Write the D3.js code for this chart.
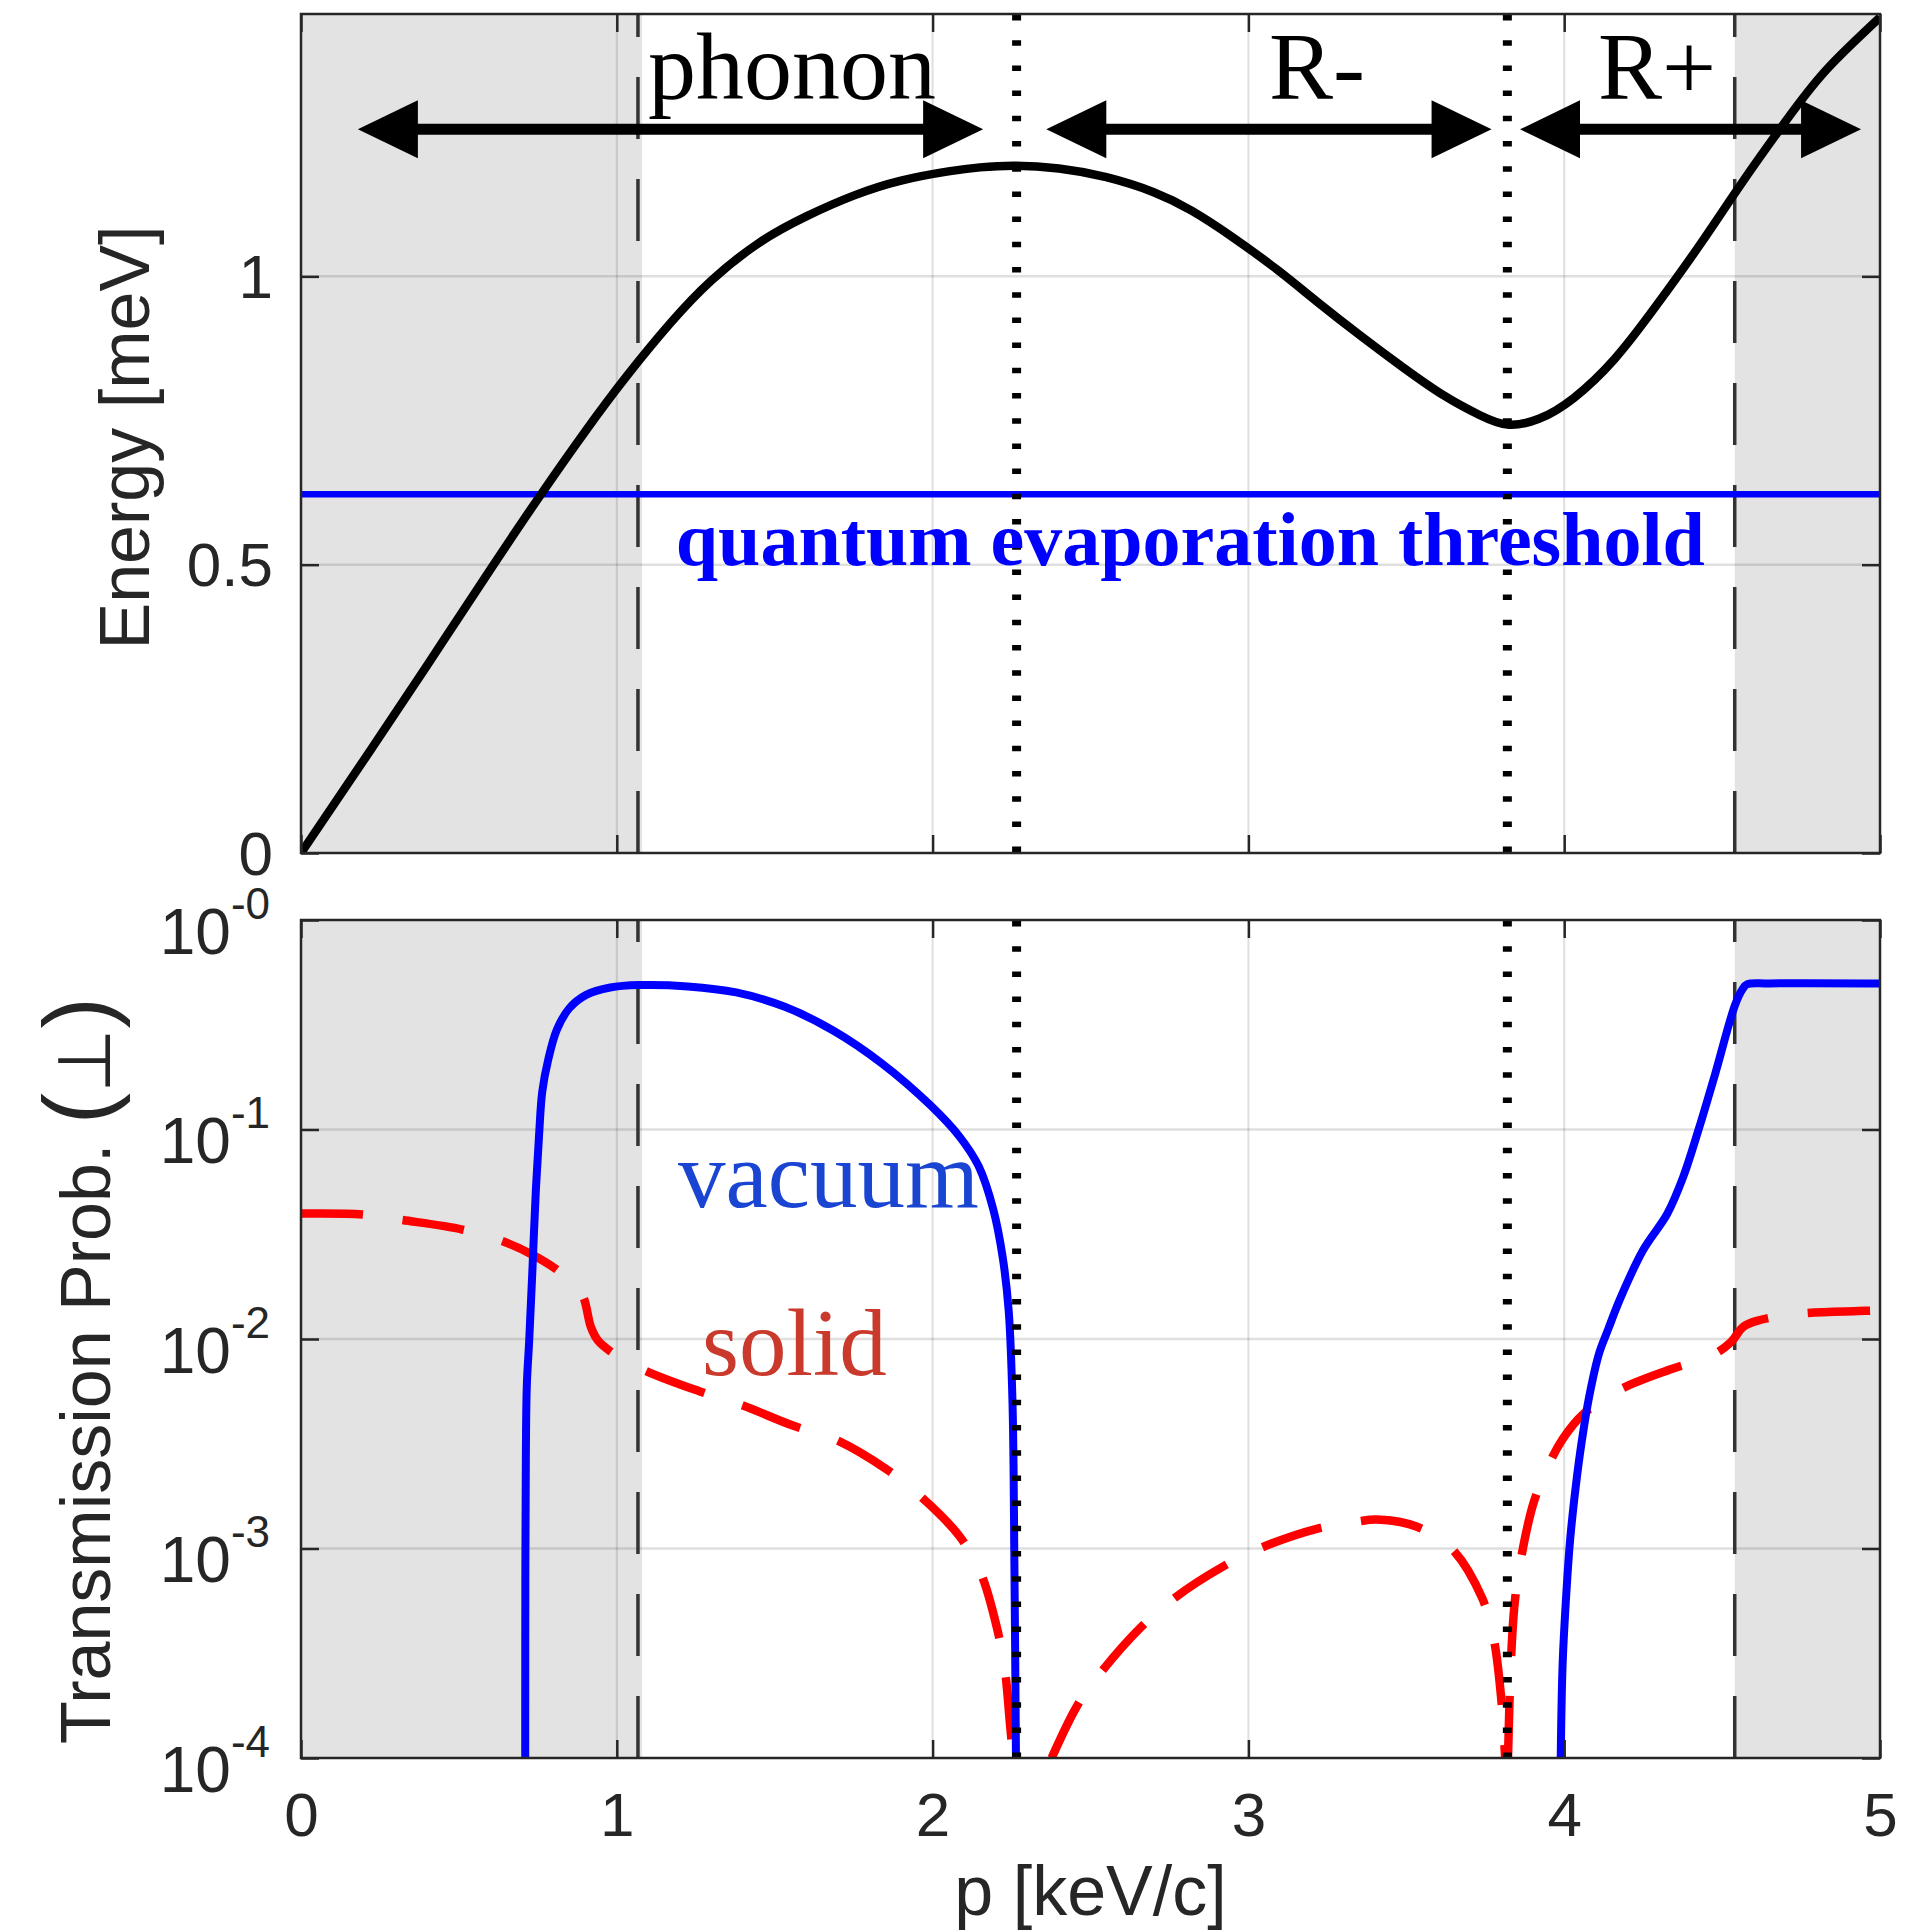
<!DOCTYPE html>
<html><head><meta charset="utf-8">
<script src="https://cdn.jsdelivr.net/npm/d3@7"></script>
<style>body{margin:0;background:#fff} svg{display:block}</style>
</head><body>
<svg id="chart" width="1926" height="1932"></svg>
<script>
// ---------------- data ----------------
const dispersionP = [0, 0.2, 0.4, 0.6, 0.76, 0.9, 1.03, 1.17, 1.3, 1.45, 1.6, 1.75, 1.9, 2.05, 2.15, 2.26, 2.4, 2.55, 2.7, 2.82, 2.95, 3.09, 3.22, 3.36, 3.49, 3.62, 3.73, 3.82, 3.92, 4.03, 4.16, 4.29, 4.43, 4.56, 4.7, 4.83, 5.0];
const dispersionE = [0, 0.162, 0.326, 0.492, 0.622, 0.731, 0.826, 0.919, 0.993, 1.058, 1.104, 1.140, 1.166, 1.182, 1.189, 1.192, 1.187, 1.172, 1.146, 1.114, 1.068, 1.012, 0.955, 0.895, 0.842, 0.793, 0.760, 0.743, 0.753, 0.789, 0.857, 0.948, 1.055, 1.160, 1.268, 1.358, 1.449];
const thresholdE = 0.622;

const vacuumLeftP = [0.7100, 0.7105, 0.712, 0.715, 0.723, 0.733, 0.744, 0.754, 0.764, 0.783, 0.810, 0.849, 0.903, 0.979, 1.071, 1.225, 1.378, 1.532, 1.685, 1.839, 1.992, 2.084, 2.146, 2.192, 2.222, 2.241, 2.253, 2.259, 2.264];
const vacuumLeftT = [1e-4, 8.5e-4, 0.00277, 0.00596, 0.0101, 0.0218, 0.0526, 0.0948, 0.152, 0.216, 0.299, 0.378, 0.439, 0.476, 0.489, 0.482, 0.451, 0.385, 0.297, 0.207, 0.131, 0.093, 0.0667, 0.0416, 0.0245, 0.0136, 0.0050, 8.5e-4, 1e-4];
const vacuumRightP = [3.989, 3.995, 4.007, 4.019, 4.037, 4.055, 4.079, 4.11, 4.14, 4.175, 4.25, 4.326, 4.376, 4.427, 4.478, 4.541, 4.565, 4.58, 4.65, 5.0];
const vacuumRightT = [1e-4, 2.8e-4, 6.2e-4, 0.00111, 0.0020, 0.0032, 0.0053, 0.0085, 0.0112, 0.0153, 0.0266, 0.0395, 0.0589, 0.1016, 0.184, 0.393, 0.468, 0.494, 0.498, 0.498];

const solidAP = [0, 0.196, 0.319, 0.511, 0.641, 0.734, 0.803, 0.87, 0.895, 0.918, 0.94, 0.979, 1.086, 1.263, 1.393, 1.562, 1.693, 1.854, 1.961, 2.084, 2.153, 2.207, 2.229, 2.245, 2.255];
const solidAT = [0.0397, 0.0393, 0.0370, 0.0333, 0.0292, 0.0252, 0.0218, 0.0178, 0.0157, 0.0114, 0.00984, 0.00875, 0.00711, 0.00562, 0.00485, 0.00384, 0.00331, 0.00239, 0.00178, 0.00115, 0.000759, 0.000398, 0.000263, 0.000146, 0.0001];
const solidBP = [2.377, 2.462, 2.54, 2.662, 2.765, 2.922, 3.038, 3.219, 3.346, 3.407, 3.534, 3.643, 3.74, 3.777, 3.801, 3.813];
const solidBT = [1e-4, 1.82e-4, 2.64e-4, 4.24e-4, 5.79e-4, 8.24e-4, 1.005e-3, 1.245e-3, 1.346e-3, 1.374e-3, 1.27e-3, 1.002e-3, 5.81e-4, 3.70e-4, 1.89e-4, 1e-4];
const solidCP = [3.822, 3.831, 3.843, 3.862, 3.904, 3.952, 3.995, 4.061, 4.174, 4.34, 4.466, 4.528, 4.566, 4.61, 4.743, 4.933, 5.0];
const solidCT = [1e-4, 2.82e-4, 5.46e-4, 8.75e-4, 1.67e-3, 2.53e-3, 3.33e-3, 4.39e-3, 5.71e-3, 7.19e-3, 8.32e-3, 9.66e-3, 0.0114, 0.0122, 0.0132, 0.0136, 0.0137];

const shadeStartP = [0, 4.54];
const shadeEndP = [1.08, 5];
const dashedP = [1.067, 4.54];
const dottedP = [2.266, 3.82];

const xTicks = [0, 1, 2, 3, 4, 5];
const energyTicks = [0, 0.5, 1];
const transTicks = [1, 0.1, 0.01, 0.001, 0.0001];
const transTickExp = ["-0", "-1", "-2", "-3", "-4"];

const arrowStartP = [0.18, 2.36, 3.86];
const arrowEndP = [2.16, 3.77, 4.94];
const arrowE = 1.255;
const regionLabels = ["phonon", "R-", "R+"];
const regionLabelP = [1.099, 3.065, 4.107];
const regionLabelE = 1.308;

const thresholdLabel = "quantum evaporation threshold";
const thresholdLabelP = 1.187, thresholdLabelE = 0.499;
const seriesLabels = ["vacuum", "solid"];
const seriesLabelP = [1.194, 1.27];
const seriesLabelT = [0.0427, 0.00673];

// ---------------- layout ----------------
const svg = d3.select("#chart");
const L = 301, R = 1880;
const top1 = 14, bot1 = 853, top2 = 920, bot2 = 1758;
const AX = "#262626";
const SANS = "'Liberation Sans', Arial, Helvetica, sans-serif";
const SERIF = "'Liberation Serif', 'Times New Roman', Times, serif";

const x = d3.scaleLinear().domain([0, 5]).range([L, R]);
const yE = d3.scaleLinear().domain([0, 1.455]).range([bot1, top1]);
const yT = d3.scaleLog().domain([1e-4, 1]).range([bot2, top2]);

const defs = svg.append("defs");
defs.append("clipPath").attr("id", "clip1").append("rect").attr("x", L).attr("y", top1).attr("width", R - L).attr("height", bot1 - top1);
defs.append("clipPath").attr("id", "clip2").append("rect").attr("x", L).attr("y", top2).attr("width", R - L).attr("height", bot2 - top2);

function panel(top, bot, clipId, yScale, yTickVals) {
  const g = svg.append("g");
  const c = g.append("g").attr("clip-path", `url(#${clipId})`);
  shadeStartP.forEach((s, i) => {
    c.append("rect").attr("x", x(s)).attr("y", top).attr("width", x(shadeEndP[i]) - x(s)).attr("height", bot - top).attr("fill", "#e3e3e3");
  });
  xTicks.slice(1, -1).forEach(t => {
    c.append("line").attr("x1", x(t)).attr("x2", x(t)).attr("y1", top).attr("y2", bot)
      .attr("stroke", "rgba(38,38,38,0.15)").attr("stroke-width", 2);
  });
  yTickVals.forEach(t => {
    const yy = yScale(t);
    if (Math.abs(yy - top) < 2 || Math.abs(yy - bot) < 2) return;
    c.append("line").attr("x1", L).attr("x2", R).attr("y1", yy).attr("y2", yy)
      .attr("stroke", "rgba(38,38,38,0.15)").attr("stroke-width", 2.5);
  });
  dashedP.forEach(p => {
    c.append("line").attr("x1", x(p)).attr("x2", x(p)).attr("y1", bot).attr("y2", top)
      .attr("stroke", "#333").attr("stroke-width", 3.5).attr("stroke-dasharray", "62 40");
  });
  return {g, c};
}

function drawDotted(c, top, bot) {
  dottedP.forEach(p => {
    c.append("line").attr("x1", x(p)).attr("x2", x(p)).attr("y1", top + 1).attr("y2", bot)
      .attr("stroke", "#000").attr("stroke-width", 9).attr("stroke-dasharray", "5.5 19.7");
  });
}

function box(g, top, bot) {
  g.append("rect").attr("x", L).attr("y", top).attr("width", R - L).attr("height", bot - top)
    .attr("fill", "none").attr("stroke", AX).attr("stroke-width", 2.5);
}

function styleAxis(sel) {
  sel.select(".domain").remove();
  sel.selectAll(".tick line").attr("stroke", AX).attr("stroke-width", 2.5);
  sel.selectAll("text").attr("fill", AX).style("font-family", SANS).style("font-size", "62px");
}

// ---------------- top panel ----------------
const P1 = panel(top1, bot1, "clip1", yE, energyTicks);
P1.c.append("line").attr("x1", L).attr("x2", R).attr("y1", yE(thresholdE)).attr("y2", yE(thresholdE))
  .attr("stroke", "#0000ff").attr("stroke-width", 6.5);
const dispLine = d3.line().x(d => x(d[0])).y(d => yE(d[1])).curve(d3.curveNatural);
P1.c.append("path").datum(dispersionP.map((p, i) => [p, dispersionE[i]]))
  .attr("d", dispLine).attr("fill", "none").attr("stroke", "#000").attr("stroke-width", 8.5)
  .attr("stroke-linejoin", "round");
drawDotted(P1.c, top1, bot1);

P1.g.append("text").attr("x", x(thresholdLabelP)).attr("y", yE(thresholdLabelE))
  .attr("fill", "#0000ff").style("font-family", SERIF).style("font-weight", "bold").style("font-size", "76px")
  .text(thresholdLabel);

const headL = 60, headH = 58;
arrowStartP.forEach((s, i) => {
  const x0 = x(s), x1 = x(arrowEndP[i]), yy = yE(arrowE);
  P1.g.append("line").attr("x1", x0 + headL - 2).attr("x2", x1 - headL + 2).attr("y1", yy).attr("y2", yy)
    .attr("stroke", "#000").attr("stroke-width", 11);
  P1.g.append("path").attr("d", `M${x0},${yy} L${x0 + headL},${yy - headH / 2} L${x0 + headL},${yy + headH / 2} Z`).attr("fill", "#000");
  P1.g.append("path").attr("d", `M${x1},${yy} L${x1 - headL},${yy - headH / 2} L${x1 - headL},${yy + headH / 2} Z`).attr("fill", "#000");
});
regionLabels.forEach((t, i) => {
  P1.g.append("text").attr("x", x(regionLabelP[i])).attr("y", yE(regionLabelE))
    .attr("fill", "#000").style("font-family", SERIF).style("font-size", "96px").text(t);
});

const ax1L = P1.g.append("g").attr("transform", `translate(${L},0)`)
  .call(d3.axisLeft(yE).tickValues(energyTicks).tickSize(-18).tickPadding(28).tickFormat(d3.format("~g")));
styleAxis(ax1L);
ax1L.selectAll("text").attr("dy", "0.34em");
const ax1R = P1.g.append("g").attr("transform", `translate(${R},0)`)
  .call(d3.axisRight(yE).tickValues(energyTicks).tickSize(-18).tickFormat(""));
styleAxis(ax1R);
const ax1B = P1.g.append("g").attr("transform", `translate(0,${bot1})`)
  .call(d3.axisBottom(x).tickValues(xTicks).tickSize(-18).tickFormat(""));
styleAxis(ax1B);
const ax1T = P1.g.append("g").attr("transform", `translate(0,${top1})`)
  .call(d3.axisTop(x).tickValues(xTicks).tickSize(-18).tickFormat(""));
styleAxis(ax1T);
box(P1.g, top1, bot1);

// ---------------- bottom panel ----------------
const P2 = panel(top2, bot2, "clip2", yT, transTicks);
const tLine = d3.line().x(d => x(d[0])).y(d => yT(d[1])).curve(d3.curveCatmullRom.alpha(0.5));
[[solidAP, solidAT], [solidBP, solidBT], [solidCP, solidCT]].forEach(([ps, ts]) => {
  P2.c.append("path").datum(ps.map((p, i) => [p, ts[i]])).attr("d", tLine)
    .attr("fill", "none").attr("stroke", "#ff0000").attr("stroke-width", 8.5)
    .attr("stroke-dasharray", "62 40");
});
[[vacuumLeftP, vacuumLeftT], [vacuumRightP, vacuumRightT]].forEach(([ps, ts]) => {
  P2.c.append("path").datum(ps.map((p, i) => [p, ts[i]])).attr("d", tLine)
    .attr("fill", "none").attr("stroke", "#0000ff").attr("stroke-width", 8)
    .attr("stroke-linejoin", "round");
});
drawDotted(P2.c, top2, bot2);

const seriesColors = ["#1a44d2", "#c93a2c"];
seriesLabels.forEach((t, i) => {
  P2.g.append("text").attr("x", x(seriesLabelP[i])).attr("y", yT(seriesLabelT[i]))
    .attr("fill", seriesColors[i]).style("font-family", SERIF).style("font-size", "95px").text(t);
});

const ax2L = P2.g.append("g").attr("transform", `translate(${L},0)`)
  .call(d3.axisLeft(yT).tickValues(transTicks).tickSize(-18).tickPadding(31).tickFormat(() => "10"));
styleAxis(ax2L);
ax2L.selectAll("text").style("font-size", "64px").attr("dy", "33px").each(function (d, i) {
  d3.select(this).append("tspan").attr("dy", "-35px").style("font-size", "44px").text(transTickExp[i]);
});
const ax2R = P2.g.append("g").attr("transform", `translate(${R},0)`)
  .call(d3.axisRight(yT).tickValues(transTicks).tickSize(-18).tickFormat(""));
styleAxis(ax2R);
const ax2B = P2.g.append("g").attr("transform", `translate(0,${bot2})`)
  .call(d3.axisBottom(x).tickValues(xTicks).tickSize(-18).tickPadding(34).tickFormat(d3.format("d")));
styleAxis(ax2B);
const ax2T = P2.g.append("g").attr("transform", `translate(0,${top2})`)
  .call(d3.axisTop(x).tickValues(xTicks).tickSize(-18).tickFormat(""));
styleAxis(ax2T);
box(P2.g, top2, bot2);

// ---------------- axis labels ----------------
svg.append("text").attr("x", (L + R) / 2).attr("y", 1915).attr("text-anchor", "middle")
  .attr("fill", AX).style("font-family", SANS).style("font-size", "70px").text("p [keV/c]");
svg.append("text").attr("transform", `translate(149,${(top1 + bot1) / 2 + 4}) rotate(-90)`).attr("text-anchor", "middle")
  .attr("fill", AX).style("font-family", SANS).style("font-size", "70px").text("Energy [meV]");
const tl = svg.append("text").attr("transform", `translate(110,1744) rotate(-90)`).attr("text-anchor", "start")
  .attr("fill", AX).style("font-family", SANS).style("font-size", "70px");
tl.append("tspan").text("Transmission Prob. ");
tl.append("tspan").style("font-size", "94px").text("(");
tl.append("tspan").style("font-family", "'DejaVu Sans', sans-serif").style("font-size", "74px").text("⊥");
tl.append("tspan").style("font-size", "94px").text(")");
</script>
</body></html>
